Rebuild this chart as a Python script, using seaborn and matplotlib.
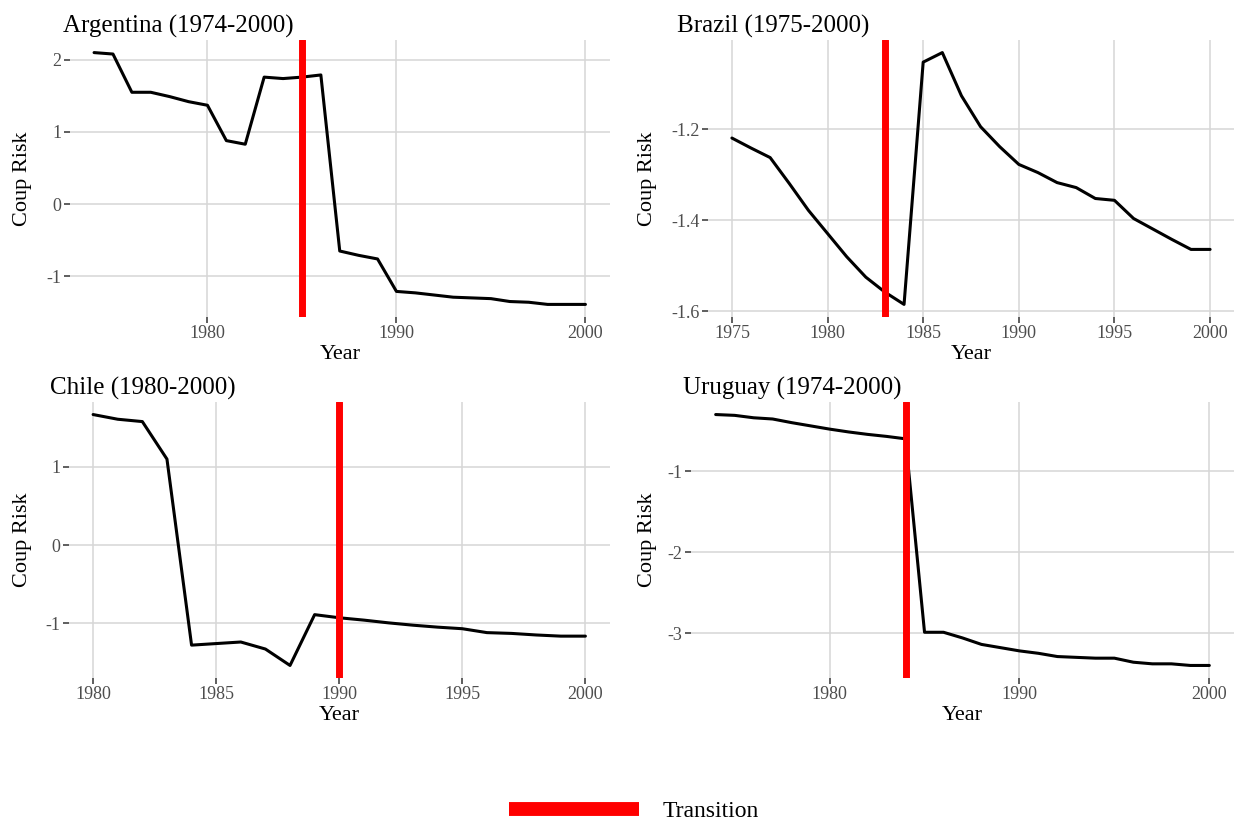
import pandas as pd
import matplotlib
matplotlib.use("Agg")
import matplotlib.pyplot as plt
from matplotlib.lines import Line2D
import seaborn as sns

# ---------------- DATA ----------------
arg_years = list(range(1974, 2001))
arg_risk = [2.10, 2.08, 1.55, 1.55, 1.49, 1.42, 1.37, 0.88, 0.83, 1.76, 1.74, 1.76, 1.79,
            -0.65, -0.71, -0.76, -1.21, -1.23, -1.26, -1.29, -1.30, -1.31, -1.35, -1.36,
            -1.39, -1.39, -1.39]

bra_years = list(range(1975, 2001))
bra_risk = [-1.219, -1.241, -1.262, -1.319, -1.378, -1.429, -1.480, -1.525, -1.558, -1.585,
            -1.052, -1.031, -1.126, -1.194, -1.238, -1.277, -1.295, -1.317, -1.328, -1.352,
            -1.356, -1.396, -1.419, -1.442, -1.464, -1.464]

chl_years = list(range(1980, 2001))
chl_risk = [1.67, 1.61, 1.58, 1.10, -1.28, -1.26, -1.24, -1.33, -1.54, -0.89, -0.93, -0.96,
            -0.995, -1.025, -1.05, -1.07, -1.12, -1.13, -1.15, -1.165, -1.165]

ury_years = list(range(1974, 2001))
ury_risk = [-0.30, -0.31, -0.34, -0.355, -0.40, -0.44, -0.48, -0.515, -0.545, -0.57, -0.60,
            -2.99, -2.99, -3.06, -3.14, -3.18, -3.22, -3.25, -3.29, -3.30, -3.31, -3.31,
            -3.36, -3.38, -3.38, -3.40, -3.40]

countries = ["Argentina", "Brazil", "Chile", "Uruguay"]
titles = ["Argentina (1974-2000)", "Brazil (1975-2000)", "Chile (1980-2000)", "Uruguay (1974-2000)"]
transitions = [1985, 1983, 1990, 1984]
xticks = [[1980, 1990, 2000], [1975, 1980, 1985, 1990, 1995, 2000],
          [1980, 1985, 1990, 1995, 2000], [1980, 1990, 2000]]
yticks = [[-1, 0, 1, 2], [-1.6, -1.4, -1.2], [-1, 0, 1], [-3, -2, -1]]

df = pd.concat([
    pd.DataFrame({"country": "Argentina", "year": arg_years, "risk": arg_risk}),
    pd.DataFrame({"country": "Brazil", "year": bra_years, "risk": bra_risk}),
    pd.DataFrame({"country": "Chile", "year": chl_years, "risk": chl_risk}),
    pd.DataFrame({"country": "Uruguay", "year": ury_years, "risk": ury_risk}),
])

# ---------------- STYLE ----------------
sns.set_style("white")
plt.rcParams['font.family'] = ['Liberation Serif', 'DejaVu Serif']
plt.rcParams['axes.unicode_minus'] = False
plt.rcParams['text.color'] = 'black'
plt.rcParams['axes.labelcolor'] = 'black'

W, H = 1236, 823
fig = plt.figure(figsize=(W / 100, H / 100), dpi=100)

# panel boxes in pixels: left, top, right, bottom
boxes = [(69.5, 40, 610, 317), (708, 40, 1234, 317),
         (68.5, 402, 610, 678), (691, 402, 1234, 678)]
title_x = [63, 677, 50, 683]
ylabel_right = [32, 657, 32, 657]

for i, c in enumerate(countries):
    l, t, r, b = boxes[i]
    ax = fig.add_axes([l / W, 1 - b / H, (r - l) / W, (b - t) / H])
    sub = df[df["country"] == c]

    ax.set_axisbelow(True)
    ax.grid(True, color="#D6D6D6", lw=1.1)
    sns.lineplot(data=sub, x="year", y="risk", color="black", lw=2.2, ax=ax)
    ax.axvline(transitions[i], color="red", lw=5)

    x0, x1 = sub["year"].min(), sub["year"].max()
    y0, y1 = sub["risk"].min(), sub["risk"].max()
    ax.set_xlim(x0 - 0.05 * (x1 - x0), x1 + 0.05 * (x1 - x0))
    ax.set_ylim(y0 - 0.05 * (y1 - y0), y1 + 0.05 * (y1 - y0))
    ax.set_xticks(xticks[i])
    ax.set_yticks(yticks[i])
    ax.set_yticklabels([f"{v:g}" for v in yticks[i]])

    ax.tick_params(bottom=True, left=True, length=4, width=1.1, color="#333333",
                   labelcolor="#4D4D4D", labelsize=13, pad=2)
    sns.despine(ax=ax, left=True, bottom=True)

    ax.set_xlabel("Year", fontsize=16, labelpad=2)
    ax.set_ylabel("Coup Risk", fontsize=16)
    ax.yaxis.set_label_coords((ylabel_right[i] - l) / (r - l), 0.5)

    fig.text(title_x[i] / W, 1 - (t - 7) / H, titles[i], fontsize=18,
             ha="left", va="baseline", color="black")

# ---------------- LEGEND ----------------
fig.legend(handles=[Line2D([], [], color="red", lw=10, solid_capstyle="butt")],
           labels=["Transition"], loc="center", bbox_to_anchor=(634 / W, 1 - 811 / H),
           frameon=False, fontsize=17, handlelength=5.5, handletextpad=1.0)

fig.savefig("out.png", dpi=100)
